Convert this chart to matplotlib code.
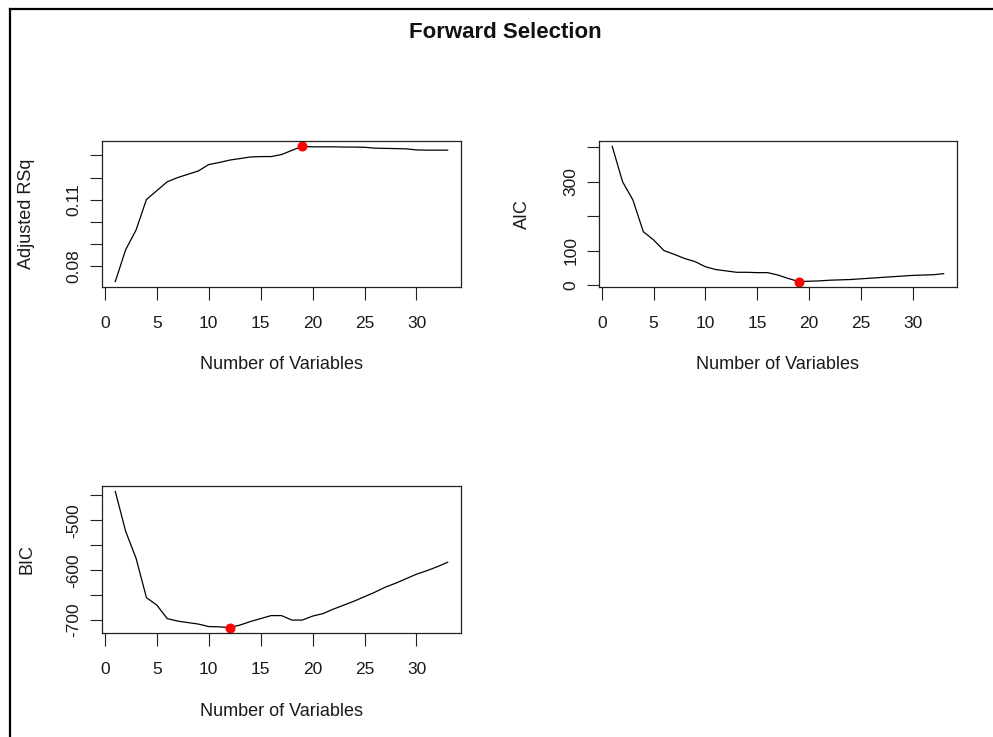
import numpy as np
import matplotlib as mpl
mpl.use('Agg')
import matplotlib.pyplot as plt  # NOQA
from matplotlib.lines import Line2D  # NOQA

plt.rcParams['font.family'] = ['Liberation Sans', 'DejaVu Sans']

n_vars = np.arange(1, 34)

adj_r2 = [0.0730, 0.0874, 0.0963, 0.1101, 0.1141, 0.1181, 0.1200, 0.1215,
          0.1230, 0.1259, 0.1268, 0.1279, 0.1286, 0.1293, 0.1295, 0.1295,
          0.1304, 0.1323, 0.1341, 0.1339, 0.1339, 0.1339, 0.1338, 0.1338,
          0.1337, 0.1333, 0.1332, 0.1331, 0.1330, 0.1325, 0.1324, 0.1324,
          0.1324]

aic = [403, 300, 247, 155, 131, 100, 89, 77, 68, 53, 45, 41, 37, 37, 36, 36,
       29, 19, 10, 11, 12, 14, 15, 16, 18, 20, 22, 24, 26, 28, 29, 30, 33]

bic = [-442, -522, -576, -655, -670, -697, -702, -705, -708, -713, -713.5,
       -715, -710, -703, -697, -691, -691, -700, -700, -692, -687, -678,
       -670, -662, -653, -644, -634, -626, -617, -608, -601, -593, -584]

x_ticks = [0, 5, 10, 15, 20, 25, 30]
r2_ticks = [0.08, 0.09, 0.10, 0.11, 0.12, 0.13]
r2_labels = ['0.08', '', '', '0.11', '', '']
aic_ticks = [0, 100, 200, 300, 400]
aic_labels = ['0', '100', '', '300', '']
bic_ticks = [-700, -650, -600, -550, -500, -450]
bic_labels = ['-700', '', '-600', '', '-500', '']

FS = 12.5


def r_style(ax, yticks, ylabels, ylabel, ylab_x):
    # R base-graphics look: 4% padding, outward ticks, upright y labels
    ax.margins(x=0.04, y=0.04)
    ax.set_xticks(x_ticks)
    ax.set_yticks(yticks)
    ax.set_yticklabels(ylabels)
    ax.tick_params(direction='out', length=9, width=0.8, colors='#222222',
                   labelsize=FS, labelcolor='#1a1a1a')
    ax.tick_params(axis='x', pad=12)
    ax.tick_params(axis='y', pad=6, labelrotation=90)
    for lab in ax.get_yticklabels():
        lab.set_va('center')
    for s in ax.spines.values():
        s.set_linewidth(0.9)
        s.set_color('#222222')
    ax.set_xlabel('Number of Variables', fontsize=13, color='#1a1a1a')
    ax.xaxis.label.set_va('center')
    ax.xaxis.set_label_coords(0.5, -0.534)
    ax.set_ylabel(ylabel, fontsize=13, color='#1a1a1a')
    ax.yaxis.label.set_va('center')
    ax.yaxis.set_label_coords(ylab_x, 0.5)


fig = plt.figure(figsize=(9.93, 7.37), dpi=100)

ax1 = fig.add_axes([0.1027, 0.6106, 0.3615, 0.1981])
ax1.plot(n_vars, adj_r2, color='black', lw=0.9)
i = int(np.argmax(adj_r2))
ax1.plot(n_vars[i], adj_r2[i], 'o', color='#ff0000', ms=7.2, mec='none')
r_style(ax1, r2_ticks, r2_labels, 'Adjusted RSq', -0.209)

ax2 = fig.add_axes([0.6032, 0.6106, 0.3605, 0.1981])
ax2.plot(n_vars, aic, color='black', lw=0.9)
i = int(np.argmin(aic))
ax2.plot(n_vars[i], aic[i], 'o', color='#ff0000', ms=7.2, mec='none')
r_style(ax2, aic_ticks, aic_labels, 'AIC', -0.215)

ax3 = fig.add_axes([0.1027, 0.1411, 0.3615, 0.1995])
ax3.plot(n_vars, bic, color='black', lw=0.9)
i = int(np.argmin(bic))
ax3.plot(n_vars[i], bic[i], 'o', color='#ff0000', ms=7.2, mec='none')
r_style(ax3, bic_ticks, bic_labels, 'BIC', -0.209)

fig.text(505 / 993, 1 - 33 / 737, 'Forward Selection', ha='center',
         va='center', fontsize=16, fontweight='bold', color='#111111')

# window frame on the left and top edges
fig.add_artist(Line2D([9.5 / 993, 9.5 / 993], [0, 1 - 8.5 / 737],
                      color='black', lw=1.6))
fig.add_artist(Line2D([9.5 / 993, 1], [1 - 8.5 / 737, 1 - 8.5 / 737],
                      color='black', lw=1.6))

fig.savefig('out.png', dpi=100)
